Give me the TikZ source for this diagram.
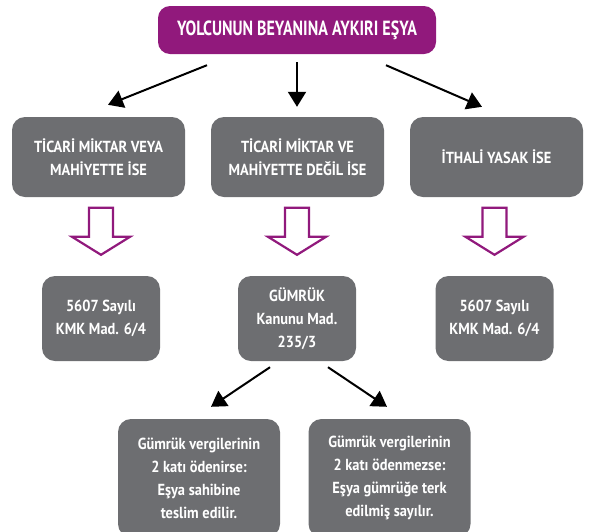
\documentclass[tikz,border=0pt]{standalone}
\usepackage{fontspec}
\setmainfont[FakeStretch=0.9]{PT Sans}
\newfontfamily\baslikfont[FakeStretch=0.78]{PT Sans}
\usepackage{xcolor}
\usepackage{tikz}
\usetikzlibrary{arrows.meta}
\definecolor{mor}{HTML}{91197C}
\definecolor{gri}{HTML}{6D6E71}
\tikzstyle{titlebox} = [fill=mor, text=white, rounded corners=12pt, inner sep=0pt,
    minimum width=278pt, minimum height=48pt, font=\baslikfont\bfseries\fontsize{20.5}{24}\selectfont]
\tikzstyle{graybox} = [fill=gri, text=white, rounded corners=13pt, inner sep=0pt,
    align=center, font=\bfseries\fontsize{16}{23}\selectfont]
\tikzstyle{kutu} = [graybox, minimum width=173pt, minimum height=80pt]
\tikzstyle{madde} = [graybox, minimum width=118pt, minimum height=85pt]
\tikzstyle{sonuc} = [graybox, minimum width=162pt, minimum height=118pt]
\tikzstyle{ok} = [line width=2pt, -{Triangle[length=15pt,width=18pt]}]
\tikzstyle{bosok} = [draw=mor, line width=2.2pt, line join=miter]

\begin{document}
\begin{tikzpicture}[x=1pt, y=-1pt]
\useasboundingbox (0,0) rectangle (589,531);
\clip (0,0) rectangle (589,531);
\node [titlebox] (yolcu) at (297,30) {YOLCUNUN BEYANINA AYKIRI EŞYA};
\node [kutu] (ticari) at (98.5,157) {TİCARİ MİKTAR VEYA\\MAHİYETTE İSE};
\node [kutu] (degil) at (297.5,157) {TİCARİ MİKTAR VE\\MAHİYETTE DEĞİL İSE};
\node [kutu] (ithal) at (496.5,157) {İTHALİ YASAK İSE};
\node [madde] (kmk1) at (101,318.5) {5607 Sayılı\\KMK Mad. 6/4};
\node [madde] (gumruk) at (297,318.5) {GÜMRÜK\\Kanunu Mad.\\235/3};
\node [madde] (kmk2) at (494.5,318.5) {5607 Sayılı\\KMK Mad. 6/4};
\node [sonuc] (odenir) at (199,478) {Gümrük vergilerinin\\2 katı ödenirse:\\Eşya sahibine\\teslim edilir.};
\node [sonuc] (odenmez) at (389.5,478) {Gümrük vergilerinin\\2 katı ödenmezse:\\Eşya gümrüğe terk\\edilmiş sayılır.};

\draw [ok] ([shift={(-90,11)}]yolcu.south) -- ([shift={(9.5,-12)}]ticari.north);
\draw [ok] ([shift={(0,8)}]yolcu.south) -- ([shift={(-0.5,-10)}]degil.north);
\draw [ok] ([shift={(89,11)}]yolcu.south) -- ([shift={(-14.5,-10)}]ithal.north);
\draw [ok] ([shift={(-27,6)}]gumruk.south) -- ([shift={(12,-12)}]odenir.north);
\draw [ok] ([shift={(31,6)}]gumruk.south) -- ([shift={(-2.5,-12)}]odenmez.north);

\foreach \n in {kmk1, gumruk, kmk2}
    \draw [bosok] ([shift={(-12,-68)}]\n.north) -- ++(0,29) -- ++(-17,0) -- ++(29,18)
        -- ++(29,-18) -- ++(-17,0) -- ++(0,-29) -- cycle;
\end{tikzpicture}
\end{document}
